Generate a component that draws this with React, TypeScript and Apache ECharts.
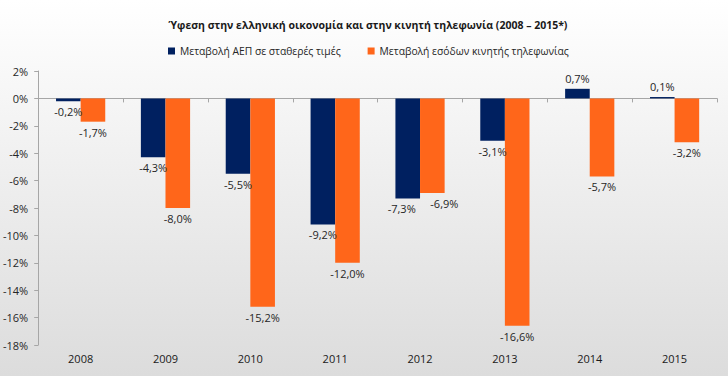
import React, { useEffect, useRef } from "react";
import * as echarts from "echarts";

const categories = ["2008", "2009", "2010", "2011", "2012", "2013", "2014", "2015"];
const gdpChange = [-0.2, -4.3, -5.5, -9.2, -7.3, -3.1, 0.7, 0.1];
const mobileRevenueChange = [-1.7, -8.0, -15.2, -12.0, -6.9, -16.6, -5.7, -3.2];
const seriesNames = ["Μεταβολή ΑΕΠ σε σταθερές τιμές", "Μεταβολή εσόδων κινητής τηλεφωνίας"];
const titleText = "Ύφεση στην ελληνική οικονομία και στην κινητή τηλεφωνία (2008 – 2015*)";
// horizontal nudges of labels that would otherwise collide (2012)
const gdpLabelShift = [0, 0, 0, 0, -6, 0, 0, 0];
const mobileLabelShift = [0, 0, 0, 0, 12, 0, 0, 0];

const FONT = "'Open Sans', 'Noto Sans', sans-serif";

function fmt(v: number) {
  return v.toFixed(1).replace(".", ",") + "%";
}

function toData(arr: number[], shift: number[]) {
  return arr.map((v, i) => ({
    value: v,
    label: { position: v >= 0 ? "top" : "bottom", offset: [shift[i], 0] },
  }));
}

export default function App() {
  const ref = useRef<HTMLDivElement>(null);
  useEffect(() => {
    if (!ref.current) return;
    const chart = echarts.init(ref.current, null, { renderer: "svg" });
    const labelCommon = {
      show: true,
      formatter: (p: any) => fmt(p.value),
      color: "#262626",
      fontSize: 11,
      fontFamily: FONT,
      distance: 5,
    };
    chart.setOption({
      animation: false,
      backgroundColor: new echarts.graphic.LinearGradient(0, 0, 0, 1, [
        { offset: 0, color: "#ffffff" },
        { offset: 1, color: "#dcdcdc" },
      ]),
      title: {
        text: titleText,
        left: 363,
        textAlign: "center",
        top: 14,
        textStyle: { fontSize: 10.5, fontWeight: "bold", color: "#1a1a1a", fontFamily: FONT },
      },
      legend: {
        top: 41,
        left: 163,
        itemWidth: 7,
        itemHeight: 7,
        itemGap: 27,
        icon: "rect",
        textStyle: { fontSize: 10.3, color: "#262626", fontFamily: FONT },
        data: seriesNames,
      },
      grid: { left: 38, right: 11, top: 71, bottom: 31, containLabel: false },
      xAxis: [
        {
          type: "category",
          data: categories,
          position: "bottom",
          axisLine: { show: false, onZero: false },
          axisTick: { show: false },
          axisLabel: { color: "#1a1a1a", fontSize: 11, fontFamily: FONT, margin: 8 },
        },
        {
          type: "category",
          data: categories,
          position: "bottom",
          axisLine: { show: true, onZero: true, lineStyle: { color: "#a6a6a6", width: 1 } },
          axisTick: { show: true, length: 4, lineStyle: { color: "#a6a6a6" } },
          axisLabel: { show: false },
        },
      ],
      yAxis: {
        type: "value",
        min: -18,
        max: 2,
        interval: 2,
        splitLine: { show: false },
        axisLine: { show: true, lineStyle: { color: "#a6a6a6" } },
        axisTick: { show: true, length: 4, lineStyle: { color: "#a6a6a6" } },
        axisLabel: {
          formatter: (v: number) => v + "%",
          color: "#262626",
          fontSize: 11,
          fontFamily: FONT,
          margin: 10,
        },
      },
      series: [
        {
          name: seriesNames[0],
          type: "bar",
          xAxisIndex: 0,
          data: toData(gdpChange, gdpLabelShift),
          barGap: "0%",
          barCategoryGap: "42%",
          itemStyle: { color: "#002060" },
          label: labelCommon,
        },
        {
          name: seriesNames[1],
          type: "bar",
          xAxisIndex: 0,
          data: toData(mobileRevenueChange, mobileLabelShift),
          barGap: "0%",
          barCategoryGap: "42%",
          itemStyle: { color: "#ff661a" },
          label: labelCommon,
        },
      ],
    });
    return () => chart.dispose();
  }, []);
  return (
    <div
      ref={ref}
      style={{ position: "absolute", left: 0, top: 0, width: 728, height: 376 }}
    />
  );
}
